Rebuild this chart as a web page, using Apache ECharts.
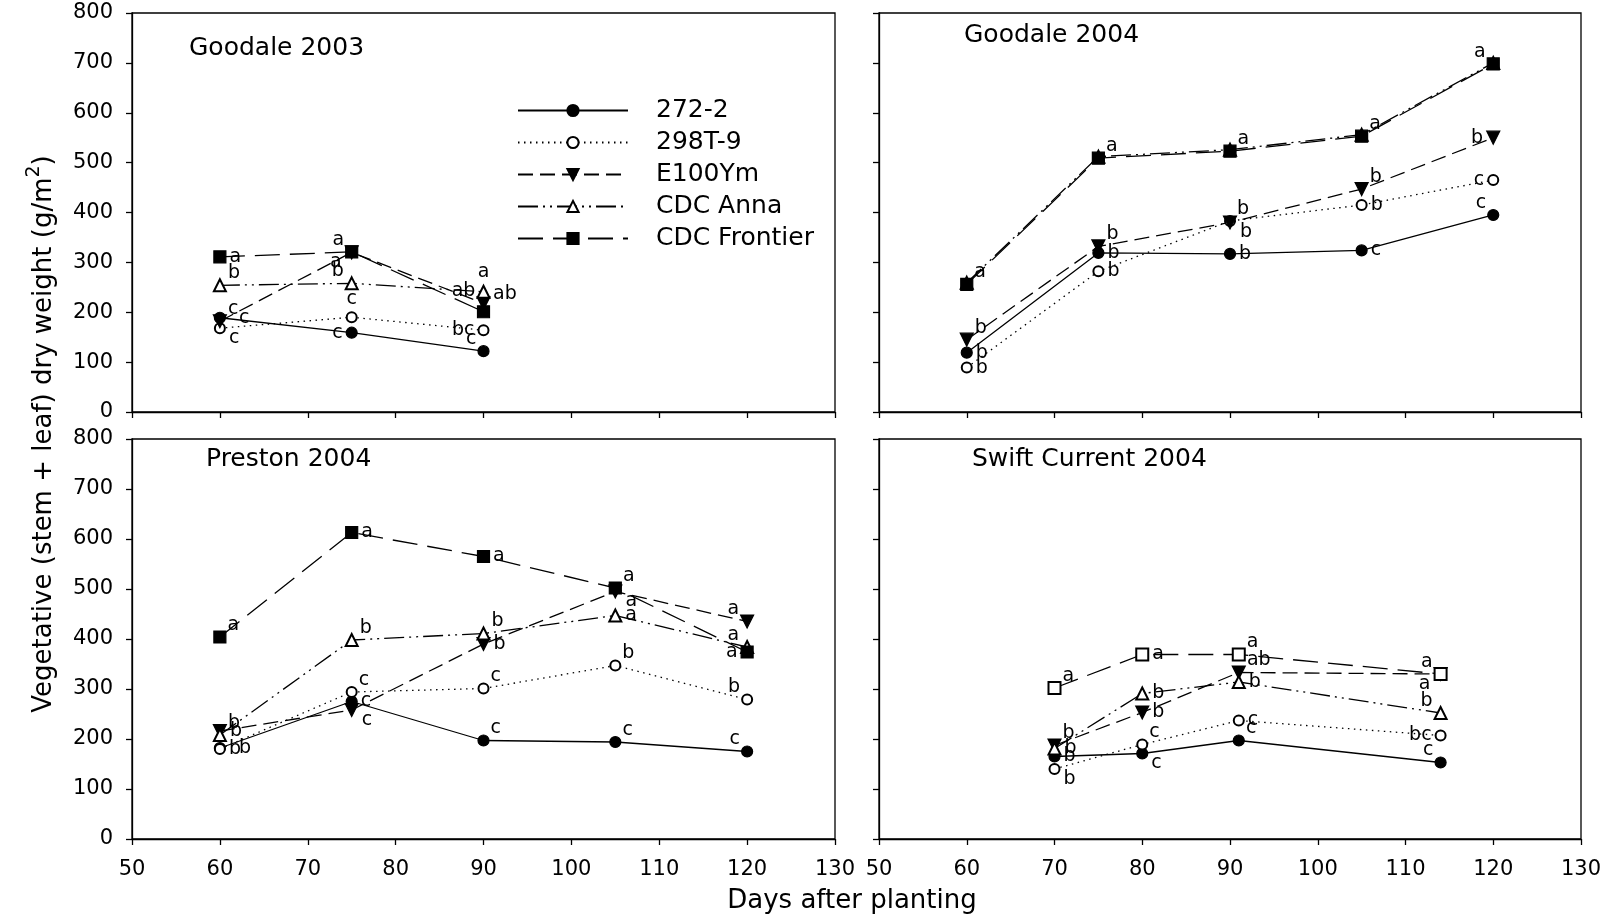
<!DOCTYPE html>
<html>
<head>
<meta charset="utf-8">
<title>Vegetative dry weight</title>
<script src="https://cdn.jsdelivr.net/npm/echarts@6/dist/echarts.min.js"></script>
<style>
    html, body { margin: 0; padding: 0; background: #fff; }
    #chart { width: 1618px; height: 919px; }
</style>
</head>
<body>
<div id="chart"></div>
<script>
// cultivars, legend order
const varieties = ['272-2', '298T-9', 'E100Ym', 'CDC Anna', 'CDC Frontier'];

// Goodale 2003
const daysGoodale03 = [60, 75, 90];
const goodale03_272 = [189, 159, 122];
const goodale03_298 = [168, 190, 164];
const goodale03_e100 = [182, 320, 218];
const goodale03_anna = [254, 258, 241];
const goodale03_frontier = [311, 321, 201];

// Goodale 2004
const daysGoodale04 = [60, 75, 90, 105, 120];
const goodale04_272 = [119, 319, 317, 324, 395];
const goodale04_298 = [89, 282, 383, 415, 465];
const goodale04_e100 = [145, 332, 380, 447, 550];
const goodale04_anna = [259, 512, 526, 556, 700];
const goodale04_frontier = [256, 509, 523, 553, 698];

// Preston 2004
const daysPreston04 = [60, 75, 90, 105, 120];
const preston04_272 = [182, 275, 197, 194, 175];
const preston04_298 = [180, 294, 301, 347, 279];
const preston04_e100 = [216, 258, 390, 495, 435];
const preston04_anna = [208, 398, 411, 447, 384];
const preston04_frontier = [404, 613, 565, 502, 374];

// Swift Current 2004
const daysSwift04 = [70, 80, 91, 114];
const swift04_272 = [165, 171, 197, 153];
const swift04_298 = [140, 189, 237, 207];
const swift04_e100 = [187, 253, 333, 330];
const swift04_anna = [181, 291, 314, 252];
const swift04_frontier = [302, 369, 369, 330];

// mean separation letters (272-2, 298T-9, E100Ym, CDC Anna, CDC Frontier)
const lettersGoodale03 = [
    ['c', 'c', 'c'],
    ['c', 'c', 'bc'],
    ['c', 'a', 'ab'],
    ['b', 'b', 'a'],
    ['a', 'a', 'ab']
];
const lettersGoodale04 = [
    ['b', 'b', 'b', 'c', 'c'],
    ['b', 'b', 'b', 'b', 'c'],
    ['b', 'b', 'b', 'b', 'b'],
    ['', '', '', '', ''],
    ['a', 'a', 'a', 'a', 'a']
];
const lettersPreston04 = [
    ['b', 'c', 'c', 'c', 'c'],
    ['b', 'c', 'c', 'b', 'b'],
    ['b', 'c', 'b', 'a', 'a'],
    ['b', 'b', 'b', 'a', 'a'],
    ['a', 'a', 'a', 'a', 'a']
];
const lettersSwift04 = [
    ['b', 'c', 'c', 'c'],
    ['b', 'c', 'c', 'bc'],
    ['b', 'b', 'ab', 'a'],
    ['b', 'b', 'b', 'b'],
    ['a', 'a', 'a', 'a']
];

// where each letter sits next to its point
const spotsGoodale03 = [
    ['rr', 'l', 'tl'],
    ['br', 'tt', 'l'],
    ['tr', 'bl', 'tl'],
    ['tr', 'tl', 'tt'],
    ['r', 'tl', 'r2']
];
const spotsGoodale04 = [
    ['r', 'r', 'r', 'r', 'tl'],
    ['r', 'r', 'tr', 'r', 'l'],
    ['tr', 'tr', 'br', 'tr', 'l'],
    ['r', 'r', 'r', 'r', 'r'],
    ['tr', 'tr', 'tr', 'tr', 'tl']
];
const spotsPreston04 = [
    ['rr', 'r', 'tr', 'tr', 'tl'],
    ['r', 'tr', 'tr', 'tr', 'tl'],
    ['r', 'br', 'r', 'br', 'tl'],
    ['tr', 'tr', 'tr', 'r', 'tl'],
    ['tr', 'r', 'r', 'tr', 'l']
];
const spotsSwift04 = [
    ['r', 'br', 'tr', 'tl'],
    ['br', 'tr', 'r', 'l'],
    ['tr', 'r', 'tr', 'bl'],
    ['r', 'r', 'r', 'tl'],
    ['tr', 'r', 'tr', 'tl']
];

const font = 'DejaVu Sans';

const panels = [
    {
        title: 'Goodale 2003', titlePos: [189, 36], days: daysGoodale03,
        values: [goodale03_272, goodale03_298, goodale03_e100, goodale03_anna, goodale03_frontier],
        letters: lettersGoodale03, spots: spotsGoodale03
    },
    {
        title: 'Goodale 2004', titlePos: [964, 23], days: daysGoodale04,
        values: [goodale04_272, goodale04_298, goodale04_e100, goodale04_anna, goodale04_frontier],
        letters: lettersGoodale04, spots: spotsGoodale04
    },
    {
        title: 'Preston 2004', titlePos: [206, 447], days: daysPreston04,
        values: [preston04_272, preston04_298, preston04_e100, preston04_anna, preston04_frontier],
        letters: lettersPreston04, spots: spotsPreston04
    },
    {
        title: 'Swift Current 2004', titlePos: [972, 447], days: daysSwift04,
        values: [swift04_272, swift04_298, swift04_e100, swift04_anna, swift04_frontier],
        letters: lettersSwift04, spots: spotsSwift04, openSquares: true
    }
];

const gridRects = [
    { left: 132, top: 13, width: 703, height: 399 },
    { left: 879, top: 13, width: 702, height: 399 },
    { left: 132, top: 439, width: 703, height: 400 },
    { left: 879, top: 439, width: 702, height: 400 }
];

// line + marker look of each cultivar
const looks = [
    { symbol: 'circle', symbolSize: 11, dash: 'solid' },
    { symbol: 'emptyCircle', symbolSize: 10, dash: [1.5, 4.5] },
    { symbol: 'triangle', symbolSize: 13, rotate: 180, dash: [15, 7] },
    { symbol: 'emptyTriangle', symbolSize: 12, dash: [20, 5, 2, 5, 2, 5] },
    { symbol: 'rect', symbolSize: 12, dash: [25, 10] }
];

const spotStyle = {
    r: { position: 'right', offset: [0, 0] },
    rr: { position: 'right', offset: [10, 0] },
    r2: { position: 'right', offset: [0, -18] },
    tr: { position: 'right', offset: [-2, -12] },
    br: { position: 'right', offset: [0, 10] },
    l: { position: 'left', offset: [0, 0] },
    tl: { position: 'left', offset: [2, -12] },
    bl: { position: 'left', offset: [0, 10] },
    tt: { position: 'top', offset: [0, 0] }
};

function getSeries() {
    let seriesArr = [];
    panels.forEach((panel, p) => {
        panel.values.forEach((vals, k) => {
            const look = looks[k];
            let symbol = look.symbol;
            if (k === 4 && panel.openSquares) symbol = 'emptyRect';
            const data = vals.map((v, i) => {
                const spot = spotStyle[panel.spots[k][i]];
                return {
                    value: [panel.days[i], v],
                    label: {
                        show: panel.letters[k][i] !== '',
                        formatter: panel.letters[k][i],
                        position: spot.position,
                        offset: spot.offset
                    }
                };
            });
            seriesArr.push({
                name: varieties[k],
                type: 'line',
                xAxisIndex: p,
                yAxisIndex: p,
                data: data,
                symbol: symbol,
                symbolSize: look.symbolSize,
                symbolRotate: look.rotate || 0,
                showAllSymbol: true,
                animation: false,
                lineStyle: {
                    color: '#000',
                    width: 1.3,
                    type: look.dash
                },
                itemStyle: {
                    color: '#000',
                    borderColor: '#000',
                    borderWidth: 1.2
                },
                label: {
                    color: '#000',
                    fontFamily: font,
                    fontSize: 19,
                    distance: 3
                },
                emphasis: { disabled: true }
            });
        });
    });
    return seriesArr;
}

function makeAxes() {
    const xAxis = [];
    const yAxis = [];
    gridRects.forEach((g, i) => {
        const axisLine = { show: true, onZero: false, lineStyle: { color: '#000', width: 1.3 } };
        const axisTick = { show: true, inside: false, length: 6, lineStyle: { color: '#000', width: 1.3 } };
        xAxis.push({
            type: 'value',
            gridIndex: i,
            min: 50,
            max: 130,
            interval: 10,
            axisLine: axisLine,
            axisTick: axisTick,
            splitLine: { show: false },
            axisLabel: {
                show: i >= 2,
                color: '#000',
                fontFamily: font,
                fontSize: 21,
                margin: 20
            }
        });
        yAxis.push({
            type: 'value',
            gridIndex: i,
            min: 0,
            max: 800,
            interval: 100,
            axisLine: axisLine,
            axisTick: axisTick,
            splitLine: { show: false },
            axisLabel: {
                show: i % 2 === 0,
                color: '#000',
                fontFamily: font,
                fontSize: 21,
                margin: 19
            }
        });
    });
    return { xAxis, yAxis };
}

const chart = echarts.init(document.getElementById('chart'), null, { renderer: 'canvas' });
const axes = makeAxes();

chart.setOption({
    backgroundColor: '#fff',
    animation: false,
    grid: gridRects.map((g) => ({
        left: g.left,
        top: g.top,
        width: g.width,
        height: g.height,
        show: true,
        borderColor: '#000',
        borderWidth: 1.3,
        backgroundColor: 'transparent',
        containLabel: false,
        outerBoundsMode: 'none'
    })),
    title: panels.map((p) => ({
        text: p.title,
        left: p.titlePos[0],
        top: p.titlePos[1],
        padding: 0,
        textStyle: { color: '#000', fontFamily: font, fontSize: 25, fontWeight: 'normal' }
    })),
    legend: {
        data: varieties,
        orient: 'vertical',
        left: 512,
        top: 93,
        itemWidth: 110,
        itemHeight: 14,
        itemGap: 7,
        selectedMode: false,
        textStyle: {
            color: '#000',
            fontFamily: font,
            fontSize: 25,
            lineHeight: 24,
            padding: [0, 0, 0, 23]
        }
    },
    xAxis: axes.xAxis,
    yAxis: axes.yAxis,
    graphic: [
        {
            type: 'text',
            x: 41,
            y: 434,
            rotation: Math.PI / 2,
            style: {
                text: '{m|Vegetative (stem + leaf) dry weight (g/m}{s|2}{m|)}',
                align: 'center',
                verticalAlign: 'middle',
                fill: '#000',
                rich: {
                    m: { fontFamily: font, fontSize: 26, verticalAlign: 'bottom' },
                    s: { fontFamily: font, fontSize: 19, verticalAlign: 'top', padding: [0, 0, 14, 0] }
                }
            }
        },
        {
            type: 'text',
            x: 852,
            y: 901,
            style: {
                text: 'Days after planting',
                align: 'center',
                verticalAlign: 'middle',
                fill: '#000',
                font: '26px "DejaVu Sans"'
            }
        }
    ],
    series: getSeries()
});
</script>
</body>
</html>
